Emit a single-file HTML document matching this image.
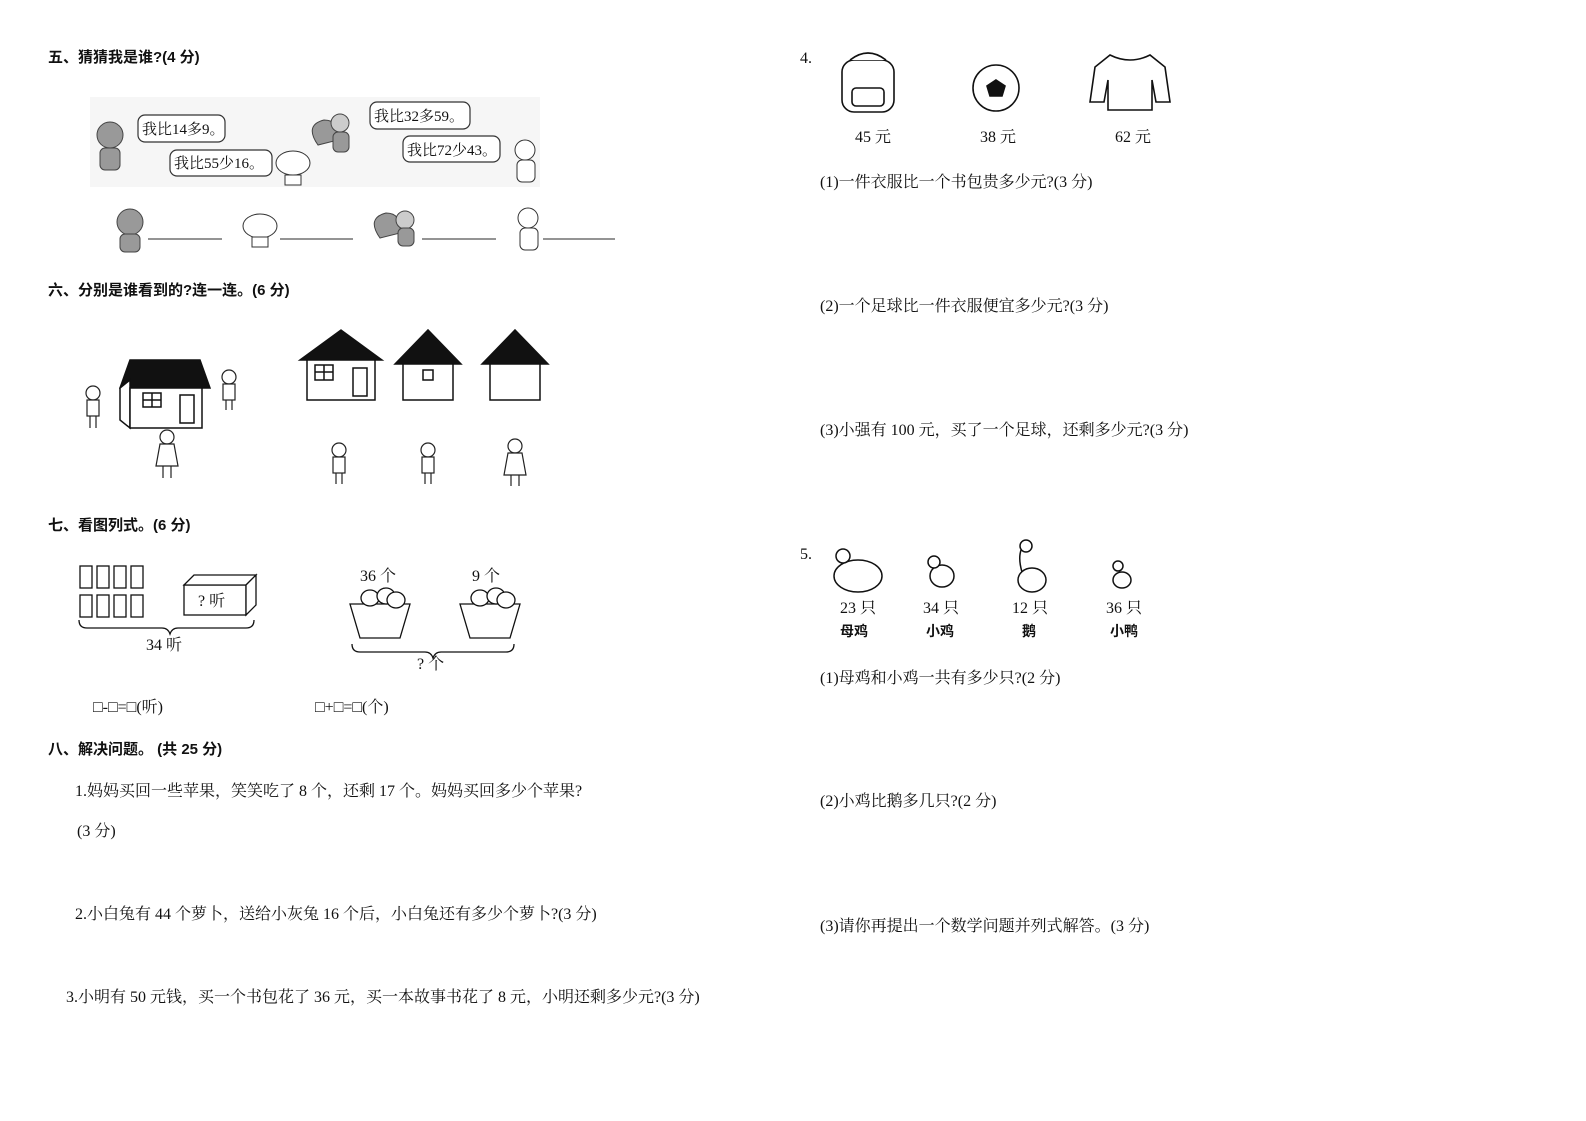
<!DOCTYPE html>
<html><head><meta charset="utf-8"><style>
html,body{margin:0;padding:0;background:#fff;}
svg{display:block;}
text{font-family:"Liberation Serif","Noto Serif CJK SC",serif;font-size:16px;fill:#111;}
.b{font-weight:bold;font-family:"Liberation Sans","Noto Sans CJK SC",sans-serif;font-size:15px;}
</style></head><body>
<svg width="1586" height="1121" viewBox="0 0 1586 1121" xmlns="http://www.w3.org/2000/svg">
<text class="b" x="48" y="62">五、猜猜我是谁?(4 分)</text>
<rect x="90" y="97" width="450" height="90" fill="#f6f6f6"/>
<g fill="#fff" stroke="#333" stroke-width="1.2">
<rect x="138" y="115" width="87" height="27" rx="7"/>
<rect x="170" y="150" width="102" height="26" rx="7"/>
<rect x="370" y="102" width="100" height="27" rx="7"/>
<rect x="403" y="136" width="97" height="26" rx="7"/>
</g>
<text x="142" y="134" style="font-size:15px">我比14多9。</text>
<text x="174" y="168" style="font-size:15px">我比55少16。</text>
<text x="374" y="121" style="font-size:15px">我比32多59。</text>
<text x="407" y="155" style="font-size:15px">我比72少43。</text>
<g fill="#999" stroke="#444">
<circle cx="110" cy="135" r="13"/><rect x="100" y="148" width="20" height="22" rx="5"/>
<path d="M318 145 q-14 -20 6 -25 q16 0 14 20z"/><circle cx="340" cy="123" r="9" fill="#ccc"/><rect x="333" y="132" width="16" height="20" rx="5"/>
</g>
<g fill="#fff" stroke="#333">
<ellipse cx="293" cy="163" rx="17" ry="12"/><rect x="285" y="175" width="16" height="10"/>
<circle cx="525" cy="150" r="10"/><rect x="517" y="160" width="18" height="22" rx="5"/>
</g>
<g fill="#999" stroke="#444">
<circle cx="130" cy="222" r="13"/><rect x="120" y="234" width="20" height="18" rx="5"/>
<path d="M380 238 q-14 -20 6 -25 q16 0 14 20z"/><circle cx="405" cy="220" r="9" fill="#ccc"/><rect x="398" y="228" width="16" height="18" rx="5"/>
</g>
<g fill="#fff" stroke="#333">
<ellipse cx="260" cy="226" rx="17" ry="12"/><rect x="252" y="237" width="16" height="10"/>
<circle cx="528" cy="218" r="10"/><rect x="520" y="228" width="18" height="22" rx="5"/>
</g>
<g stroke="#555" stroke-width="1.2">
<line x1="148" y1="239" x2="222" y2="239"/><line x1="280" y1="239" x2="353" y2="239"/>
<line x1="422" y1="239" x2="496" y2="239"/><line x1="543" y1="239" x2="615" y2="239"/>
</g>
<text class="b" x="48" y="295">六、分别是谁看到的?连一连。(6 分)</text>
<g stroke="#111" stroke-width="1.5" fill="#fff">
<polygon points="120,388 130,360 200,360 210,388" fill="#111"/>
<polygon points="120,388 130,380 130,428 120,420"/>
<rect x="130" y="388" width="72" height="40"/>
<rect x="143" y="393" width="18" height="14"/><line x1="152" y1="393" x2="152" y2="407"/><line x1="143" y1="400" x2="161" y2="400"/>
<rect x="180" y="395" width="14" height="28"/>
<polygon points="300,360 341,330 382,360" fill="#111"/>
<rect x="307" y="360" width="68" height="40"/>
<rect x="315" y="365" width="18" height="15"/><line x1="324" y1="365" x2="324" y2="380"/><line x1="315" y1="372" x2="333" y2="372"/>
<rect x="353" y="368" width="14" height="28"/>
<polygon points="395,364 428,330 461,364" fill="#111"/>
<rect x="403" y="364" width="50" height="36"/>
<rect x="423" y="370" width="10" height="10"/>
<polygon points="482,364 515,330 548,364" fill="#111"/>
<rect x="490" y="364" width="50" height="36"/>
</g>
<g fill="#fff" stroke="#222" stroke-width="1.2">
<circle cx="93" cy="393" r="7"/><rect x="87" y="400" width="12" height="16"/><line x1="90" y1="416" x2="90" y2="428"/><line x1="96" y1="416" x2="96" y2="428"/>
<circle cx="229" cy="377" r="7"/><rect x="223" y="384" width="12" height="16"/><line x1="226" y1="400" x2="226" y2="410"/><line x1="232" y1="400" x2="232" y2="410"/>
<circle cx="167" cy="437" r="7"/><path d="M160 444 l-4 22 h22 l-4 -22z"/><line x1="163" y1="466" x2="163" y2="478"/><line x1="171" y1="466" x2="171" y2="478"/>
<circle cx="339" cy="450" r="7"/><rect x="333" y="457" width="12" height="16"/><line x1="336" y1="473" x2="336" y2="484"/><line x1="342" y1="473" x2="342" y2="484"/>
<circle cx="428" cy="450" r="7"/><rect x="422" y="457" width="12" height="16"/><line x1="425" y1="473" x2="425" y2="484"/><line x1="431" y1="473" x2="431" y2="484"/>
<circle cx="515" cy="446" r="7"/><path d="M508 453 l-4 22 h22 l-4 -22z"/><line x1="511" y1="475" x2="511" y2="486"/><line x1="519" y1="475" x2="519" y2="486"/>
</g>
<text class="b" x="48" y="530">七、看图列式。(6 分)</text>
<g fill="#fff" stroke="#111" stroke-width="1.3">
<rect x="80" y="566" width="12" height="22"/><rect x="97" y="566" width="12" height="22"/><rect x="114" y="566" width="12" height="22"/><rect x="131" y="566" width="12" height="22"/>
<rect x="80" y="595" width="12" height="22"/><rect x="97" y="595" width="12" height="22"/><rect x="114" y="595" width="12" height="22"/><rect x="131" y="595" width="12" height="22"/>
<rect x="184" y="585" width="62" height="30"/><polygon points="184,585 194,575 256,575 246,585"/><polygon points="246,585 256,575 256,605 246,615"/>
<path d="M79 620 q0 8 8 8 h75 q6 0 8 6 q2 -6 8 -6 h68 q8 0 8 -8" fill="none"/>
<path d="M352 644 q0 8 8 8 h65 q6 0 8 6 q2 -6 8 -6 h65 q8 0 8 -8" fill="none"/>
<path d="M350 604 h60 l-10 34 h-40z"/><path d="M460 604 h60 l-10 34 h-40z"/>
<ellipse cx="370" cy="598" rx="9" ry="8"/><ellipse cx="386" cy="596" rx="9" ry="8"/><ellipse cx="396" cy="600" rx="9" ry="8"/>
<ellipse cx="480" cy="598" rx="9" ry="8"/><ellipse cx="496" cy="596" rx="9" ry="8"/><ellipse cx="506" cy="600" rx="9" ry="8"/>
</g>
<text x="198" y="606">? 听</text>
<text x="146" y="650">34 听</text>
<text x="360" y="581">36 个</text>
<text x="472" y="581">9 个</text>
<text x="417" y="669">? 个</text>
<text x="93" y="712">□-□=□(听)</text>
<text x="315" y="712">□+□=□(个)</text>
<text class="b" x="48" y="754">八、解决问题。 (共 25 分)</text>
<text x="75" y="796">1.妈妈买回一些苹果，笑笑吃了 8 个，还剩 17 个。妈妈买回多少个苹果?</text>
<text x="77" y="836">(3 分)</text>
<text x="75" y="919">2.小白兔有 44 个萝卜，送给小灰兔 16 个后，小白兔还有多少个萝卜?(3 分)</text>
<text x="66" y="1002">3.小明有 50 元钱，买一个书包花了 36 元，买一本故事书花了 8 元，小明还剩多少元?(3 分)</text>
<text x="800" y="63">4.</text>
<g fill="#fff" stroke="#111" stroke-width="1.6">
<rect x="842" y="60" width="52" height="52" rx="12"/><path d="M850 60 q18 -14 36 0"/><rect x="852" y="88" width="32" height="18" rx="4"/>
<circle cx="996" cy="88" r="23"/><polygon points="996,80 1005,86 1002,96 990,96 987,86" fill="#111"/>
<path d="M1110 55 l-15 12 l-5 35 h14 l4 -22 v30 h44 v-30 l4 22 h14 l-5 -35 l-15 -12 q-20 10 -40 0z"/>
</g>
<text x="855" y="142">45 元</text>
<text x="980" y="142">38 元</text>
<text x="1115" y="142">62 元</text>
<text x="820" y="187">(1)一件衣服比一个书包贵多少元?(3 分)</text>
<text x="820" y="311">(2)一个足球比一件衣服便宜多少元?(3 分)</text>
<text x="820" y="435">(3)小强有 100 元，买了一个足球，还剩多少元?(3 分)</text>
<text x="800" y="559">5.</text>
<g fill="#fff" stroke="#111" stroke-width="1.5">
<ellipse cx="858" cy="576" rx="24" ry="16"/><circle cx="843" cy="556" r="7"/>
<ellipse cx="942" cy="576" rx="12" ry="11"/><circle cx="934" cy="562" r="6"/>
<ellipse cx="1032" cy="580" rx="14" ry="12"/><path d="M1022 572 q-6 -20 4 -30"/><circle cx="1026" cy="546" r="6"/>
<ellipse cx="1122" cy="580" rx="9" ry="8"/><circle cx="1118" cy="566" r="5"/>
</g>
<text x="840" y="613">23 只</text>
<text x="923" y="613">34 只</text>
<text x="1012" y="613">12 只</text>
<text x="1106" y="613">36 只</text>
<text class="b" x="840" y="636" style="font-size:14px">母鸡</text>
<text class="b" x="926" y="636" style="font-size:14px">小鸡</text>
<text class="b" x="1022" y="636" style="font-size:14px">鹅</text>
<text class="b" x="1110" y="636" style="font-size:14px">小鸭</text>
<text x="820" y="683">(1)母鸡和小鸡一共有多少只?(2 分)</text>
<text x="820" y="806">(2)小鸡比鹅多几只?(2 分)</text>
<text x="820" y="931">(3)请你再提出一个数学问题并列式解答。(3 分)</text>
</svg>
</body></html>
